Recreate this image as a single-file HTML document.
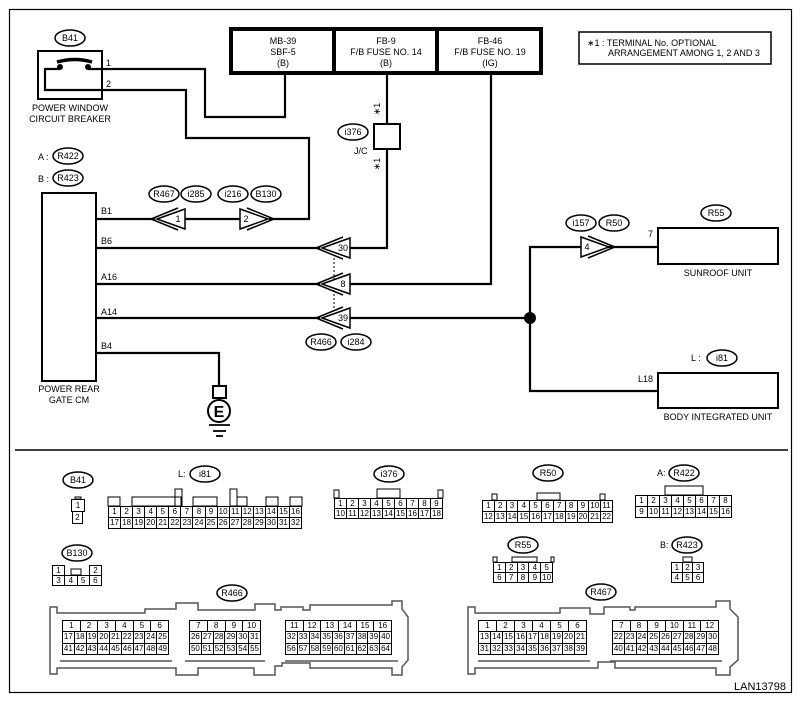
<!DOCTYPE html>
<html><head><meta charset="utf-8"><style>
body{margin:0;background:#fff;width:803px;height:703px;position:relative;overflow:hidden;font-family:"Liberation Sans",sans-serif}
svg{position:absolute;left:0;top:0}
table.g{position:absolute;border-collapse:collapse;font:8px "Liberation Sans",sans-serif;table-layout:fixed}
table.g td{border:1px solid #000;padding:0;text-align:center;line-height:8px;background:#fff}
</style></head><body>
<svg width="803" height="703" viewBox="0 0 803 703" font-family="Liberation Sans, sans-serif">
<rect x="9.5" y="9.5" width="782" height="683" fill="none" stroke="#000" stroke-width="1.2"/>
<line x1="15" y1="450" x2="788" y2="450" stroke="#000" stroke-width="1.5"/>
<rect x="231" y="29" width="310" height="44" fill="none" stroke="#000" stroke-width="4"/>
<line x1="334" y1="29" x2="334" y2="73" stroke="#000" stroke-width="4"/>
<line x1="437" y1="29" x2="437" y2="73" stroke="#000" stroke-width="4"/>
<g font-size="9" text-anchor="middle">
<text x="283" y="44">MB-39</text><text x="283" y="55">SBF-5</text><text x="283" y="66">(B)</text>
<text x="386" y="44">FB-9</text><text x="386" y="55">F/B FUSE NO. 14</text><text x="386" y="66">(B)</text>
<text x="490" y="44">FB-46</text><text x="490" y="55">F/B FUSE NO. 19</text><text x="490" y="66">(IG)</text>
</g>
<rect x="579" y="32" width="192" height="32" fill="none" stroke="#000" stroke-width="1.5"/>
<text x="587" y="46" font-size="9">∗1  : TERMINAL No. OPTIONAL</text>
<text x="608" y="56" font-size="9">ARRANGEMENT AMONG 1, 2 AND 3</text>
<g fill="none" stroke="#000" stroke-width="2.2">
<rect x="38" y="51" width="64" height="48" stroke-width="2"/>
<polyline points="60,69 45,69 45,90 102,90"/>
<path d="M57,62 Q75,57 92,62" stroke-width="3.5"/>
<polyline points="88,69 205,69 205,117 285,117 285,74"/>
<polyline points="102,90 186,90 186,138 309,138 309,219 269,219"/>
<line x1="96" y1="219" x2="155" y2="219"/><line x1="185" y1="219" x2="240" y2="219"/>
<line x1="387" y1="74" x2="387" y2="124"/><polyline points="387,149 387,248 350,248"/>
<rect x="374" y="124" width="26" height="25" stroke-width="2"/>
<line x1="96" y1="248" x2="320" y2="248"/>
<polyline points="491,74 491,284 350,284"/><line x1="96" y1="284" x2="320" y2="284"/>
<line x1="96" y1="318" x2="320" y2="318"/><line x1="350" y1="318" x2="530" y2="318"/>
<polyline points="610,247 530,247 530,391 658,391"/><line x1="610" y1="247" x2="658" y2="247"/>
<polyline points="96,353 219,353 219,386"/>
<rect x="42" y="193" width="54" height="188" stroke-width="2"/>
<rect x="658" y="228" width="120" height="36" stroke-width="2"/>
<rect x="658" y="373" width="120" height="35" stroke-width="2"/>
<rect x="213" y="386" width="13" height="12" stroke-width="2"/>
<circle cx="219" cy="411" r="11" stroke-width="2"/>
<line x1="219" y1="398" x2="219" y2="400"/>
<line x1="209" y1="425" x2="230" y2="425" stroke-width="1.8"/><line x1="213" y1="431" x2="226" y2="431" stroke-width="1.8"/><line x1="216" y1="436" x2="223" y2="436" stroke-width="1.8"/>
</g>
<circle cx="60" cy="67" r="3" fill="#000"/><circle cx="88" cy="67" r="3" fill="#000"/>
<circle cx="530" cy="318" r="6" fill="#000"/>
<line x1="334" y1="258" x2="334" y2="310" stroke="#000" stroke-dasharray="2,2"/>
<text x="219" y="417" font-size="16" font-weight="bold" text-anchor="middle">E</text>
<g fill="#fff" stroke="#000" stroke-width="1.5">
<polygon points="157,219 185,209 185,229"/><polyline fill="none" points="178,208 151,219 178,230"/>
<polygon points="268,219 240,209 240,229"/><polyline fill="none" points="247,208 274,219 247,230"/>
<polygon points="322,248 350,238 350,258"/><polyline fill="none" points="343,237 316,248 343,259"/>
<polygon points="322,284 350,274 350,294"/><polyline fill="none" points="343,273 316,284 343,295"/>
<polygon points="322,318 350,308 350,328"/><polyline fill="none" points="343,307 316,318 343,329"/>
<polygon points="609,247 581,237 581,257"/><polyline fill="none" points="588,236 615,247 588,258"/>
</g>
<g font-size="9" text-anchor="middle">
<text x="178" y="222">1</text><text x="246" y="222">2</text><text x="343" y="251">30</text><text x="343" y="287">8</text><text x="343" y="321">39</text><text x="587" y="250">4</text>
</g>
<g font-size="9">
<text x="106" y="66">1</text><text x="106" y="87">2</text>
<text x="101" y="214">B1</text><text x="101" y="244">B6</text><text x="101" y="280">A16</text><text x="101" y="315">A14</text><text x="101" y="349">B4</text>
<text x="354" y="154">J/C</text>
<text x="648" y="237">7</text><text x="638" y="382">L18</text>
<text x="38" y="160">A :</text><text x="38" y="182">B :</text><text x="691" y="361">L :</text>
</g>
<text transform="translate(380,109) rotate(-90)" font-size="9" text-anchor="middle">∗1</text>
<text transform="translate(380,164) rotate(-90)" font-size="9" text-anchor="middle">∗1</text>
<g font-size="9" text-anchor="middle">
<text x="70" y="111">POWER WINDOW</text><text x="70" y="122">CIRCUIT BREAKER</text>
<text x="69" y="392">POWER REAR</text><text x="69" y="403">GATE CM</text>
<text x="718" y="276">SUNROOF UNIT</text><text x="718" y="420">BODY INTEGRATED UNIT</text>
</g>
<g fill="#fff" stroke="#000" stroke-width="1.5">
<ellipse cx="70" cy="38" rx="15" ry="8"/>
<ellipse cx="68" cy="156" rx="15" ry="8"/><ellipse cx="68" cy="178" rx="15" ry="8"/>
<ellipse cx="164" cy="194" rx="15" ry="8"/><ellipse cx="196" cy="194" rx="15" ry="8"/>
<ellipse cx="233" cy="194" rx="15" ry="8"/><ellipse cx="266" cy="194" rx="15" ry="8"/>
<ellipse cx="353" cy="132" rx="15" ry="8"/>
<ellipse cx="321" cy="342" rx="15" ry="8"/><ellipse cx="356" cy="342" rx="15" ry="8"/>
<ellipse cx="581" cy="223" rx="15" ry="8"/><ellipse cx="614" cy="223" rx="15" ry="8"/>
<ellipse cx="716" cy="213" rx="15" ry="8"/><ellipse cx="722" cy="358" rx="15" ry="8"/>
<ellipse cx="78" cy="480" rx="15" ry="8"/><ellipse cx="205" cy="474" rx="15" ry="8"/>
<ellipse cx="389" cy="474" rx="15" ry="8"/><ellipse cx="77" cy="553" rx="15" ry="8"/>
<ellipse cx="232" cy="593" rx="15" ry="8"/><ellipse cx="548" cy="473" rx="15" ry="8"/>
<ellipse cx="684" cy="473" rx="15" ry="8"/><ellipse cx="523" cy="545" rx="15" ry="8"/>
<ellipse cx="687" cy="545" rx="15" ry="8"/><ellipse cx="601" cy="592" rx="15" ry="8"/>
</g>
<g font-size="9" text-anchor="middle">
<text x="70" y="41">B41</text><text x="68" y="159">R422</text><text x="68" y="181">R423</text>
<text x="164" y="197">R467</text><text x="196" y="197">i285</text><text x="233" y="197">i216</text><text x="266" y="197">B130</text>
<text x="353" y="135">i376</text><text x="321" y="345">R466</text><text x="356" y="345">i284</text>
<text x="581" y="226">i157</text><text x="614" y="226">R50</text><text x="716" y="216">R55</text><text x="722" y="361">i81</text>
<text x="78" y="483">B41</text><text x="205" y="477">i81</text><text x="389" y="477">i376</text><text x="77" y="556">B130</text>
<text x="232" y="596">R466</text><text x="548" y="476">R50</text><text x="684" y="476">R422</text><text x="523" y="548">R55</text>
<text x="687" y="548">R423</text><text x="601" y="595">R467</text>
</g>
<g font-size="9"><text x="178" y="477">L:</text><text x="657" y="476">A:</text><text x="660" y="548">B:</text></g>
<g fill="none" stroke="#000" stroke-width="1">
<rect x="75" y="497" width="6" height="2"/>
<rect x="108" y="497" width="12" height="9"/><rect x="132" y="497" width="49" height="9"/><rect x="175" y="489" width="7" height="17"/>
<rect x="193" y="497" width="24" height="9"/><rect x="230" y="489" width="7" height="17"/><rect x="237" y="497" width="10" height="9"/>
<rect x="266" y="497" width="12" height="9"/><rect x="290" y="497" width="12" height="9"/>
<rect x="334" y="490" width="5" height="8"/><rect x="377" y="489" width="23" height="9"/><rect x="438" y="490" width="5" height="8"/>
<rect x="492" y="494" width="5" height="6"/><rect x="537" y="493" width="23" height="7"/><rect x="600" y="494" width="5" height="6"/>
<rect x="665" y="486" width="38" height="9"/>
<rect x="493" y="557" width="4" height="5"/><rect x="512" y="557" width="25" height="5"/><rect x="551" y="557" width="3" height="5"/>
<rect x="683" y="557" width="9" height="5"/>
<rect x="71" y="569" width="10" height="6"/>
</g>
<g fill="none" stroke="#555" stroke-width="1.5">
<polygon points="50,607 57,607 57,613 145,613 145,609 176,609 176,603 198,603 198,610 255,610 255,604 275,604 275,610 281,610 281,607 303,607 303,610 310,610 310,605 392,605 392,601 402,601 402,609 408,617 408,660 402,667 402,675 392,675 392,668 310,668 310,663 282,663 282,666 275,666 275,675 254,675 254,668 198,668 198,675 176,675 176,668 57,668 57,674 50,674"/>
<polygon points="468,607 475,607 475,613 560,613 560,608 590,608 590,614 604,614 604,607 630,607 630,610 635,610 635,607 716,607 716,601 730,601 730,609 738,617 738,660 730,667 730,675 716,675 716,668 615,668 615,662 598,662 598,668 475,668 475,674 468,674"/>
<line x1="60" y1="661" x2="172" y2="661"/><line x1="185" y1="661" x2="265" y2="661"/><line x1="285" y1="661" x2="398" y2="661"/>
<line x1="478" y1="661" x2="590" y2="661"/><line x1="610" y1="661" x2="722" y2="661"/>
</g>
<text x="786" y="690" font-size="11" text-anchor="end">LAN13798</text>
</svg>

<table class="g" style="left:108px;top:506px;width:194px;height:23px"><tr><td>1</td><td>2</td><td>3</td><td>4</td><td>5</td><td>6</td><td>7</td><td>8</td><td>9</td><td>10</td><td>11</td><td>12</td><td>13</td><td>14</td><td>15</td><td>16</td></tr><tr><td>17</td><td>18</td><td>19</td><td>20</td><td>21</td><td>22</td><td>23</td><td>24</td><td>25</td><td>26</td><td>27</td><td>28</td><td>29</td><td>30</td><td>31</td><td>32</td></tr></table>
<table class="g" style="left:334px;top:498px;width:109px;height:21px"><tr><td>1</td><td>2</td><td>3</td><td>4</td><td>5</td><td>6</td><td>7</td><td>8</td><td>9</td></tr><tr><td>10</td><td>11</td><td>12</td><td>13</td><td>14</td><td>15</td><td>16</td><td>17</td><td>18</td></tr></table>
<table class="g" style="left:482px;top:500px;width:131px;height:23px"><tr><td>1</td><td>2</td><td>3</td><td>4</td><td>5</td><td>6</td><td>7</td><td>8</td><td>9</td><td>10</td><td>11</td></tr><tr><td>12</td><td>13</td><td>14</td><td>15</td><td>16</td><td>17</td><td>18</td><td>19</td><td>20</td><td>21</td><td>22</td></tr></table>
<table class="g" style="left:635px;top:495px;width:97px;height:23px"><tr><td>1</td><td>2</td><td>3</td><td>4</td><td>5</td><td>6</td><td>7</td><td>8</td></tr><tr><td>9</td><td>10</td><td>11</td><td>12</td><td>13</td><td>14</td><td>15</td><td>16</td></tr></table>
<table class="g" style="left:493px;top:562px;width:60px;height:21px"><tr><td>1</td><td>2</td><td>3</td><td>4</td><td>5</td></tr><tr><td>6</td><td>7</td><td>8</td><td>9</td><td>10</td></tr></table>
<table class="g" style="left:671px;top:562px;width:33px;height:21px"><tr><td>1</td><td>2</td><td>3</td></tr><tr><td>4</td><td>5</td><td>6</td></tr></table>
<table class="g" style="left:52px;top:565px;width:13px;height:11px"><tr><td>1</td></tr></table>
<table class="g" style="left:89px;top:565px;width:13px;height:11px"><tr><td>2</td></tr></table>
<table class="g" style="left:52px;top:575px;width:50px;height:11px"><tr><td>3</td><td>4</td><td>5</td><td>6</td></tr></table>
<table class="g" style="left:71px;top:499px;width:14px;height:13px"><tr><td>1</td></tr></table>
<table class="g" style="left:72px;top:511px;width:11px;height:13px"><tr><td>2</td></tr></table>

<table class="g" style="left:62px;top:620px;width:107px;height:12px"><tr><td>1</td><td>2</td><td>3</td><td>4</td><td>5</td><td>6</td></tr></table>
<table class="g" style="left:62px;top:631px;width:107px;height:24px"><tr><td>17</td><td>18</td><td>19</td><td>20</td><td>21</td><td>22</td><td>23</td><td>24</td><td>25</td></tr><tr><td>41</td><td>42</td><td>43</td><td>44</td><td>45</td><td>46</td><td>47</td><td>48</td><td>49</td></tr></table>
<table class="g" style="left:189px;top:620px;width:72px;height:12px"><tr><td>7</td><td>8</td><td>9</td><td>10</td></tr></table>
<table class="g" style="left:189px;top:631px;width:72px;height:24px"><tr><td>26</td><td>27</td><td>28</td><td>29</td><td>30</td><td>31</td></tr><tr><td>50</td><td>51</td><td>52</td><td>53</td><td>54</td><td>55</td></tr></table>
<table class="g" style="left:285px;top:620px;width:107px;height:12px"><tr><td>11</td><td>12</td><td>13</td><td>14</td><td>15</td><td>16</td></tr></table>
<table class="g" style="left:285px;top:631px;width:107px;height:24px"><tr><td>32</td><td>33</td><td>34</td><td>35</td><td>36</td><td>37</td><td>38</td><td>39</td><td>40</td></tr><tr><td>56</td><td>57</td><td>58</td><td>59</td><td>60</td><td>61</td><td>62</td><td>63</td><td>64</td></tr></table>

<table class="g" style="left:478px;top:620px;width:109px;height:12px"><tr><td>1</td><td>2</td><td>3</td><td>4</td><td>5</td><td>6</td></tr></table>
<table class="g" style="left:478px;top:631px;width:109px;height:24px"><tr><td>13</td><td>14</td><td>15</td><td>16</td><td>17</td><td>18</td><td>19</td><td>20</td><td>21</td></tr><tr><td>31</td><td>32</td><td>33</td><td>34</td><td>35</td><td>36</td><td>37</td><td>38</td><td>39</td></tr></table>
<table class="g" style="left:612px;top:620px;width:107px;height:12px"><tr><td>7</td><td>8</td><td>9</td><td>10</td><td>11</td><td>12</td></tr></table>
<table class="g" style="left:612px;top:631px;width:107px;height:24px"><tr><td>22</td><td>23</td><td>24</td><td>25</td><td>26</td><td>27</td><td>28</td><td>29</td><td>30</td></tr><tr><td>40</td><td>41</td><td>42</td><td>43</td><td>44</td><td>45</td><td>46</td><td>47</td><td>48</td></tr></table>
</body></html>
